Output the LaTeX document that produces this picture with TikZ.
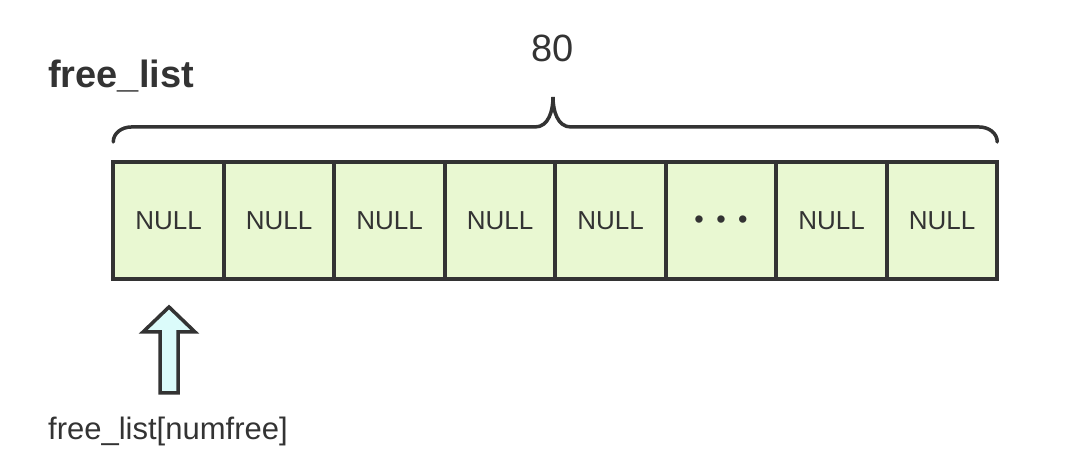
\documentclass[tikz,border=0pt]{standalone}
\usepackage{fontspec}
\setmainfont{Liberation Sans}
\usepackage{xcolor}
\usetikzlibrary{positioning, calc}
\definecolor{cellgreen}{HTML}{E9F8D2}
\definecolor{ptrcyan}{HTML}{DBFBFA}
\definecolor{inkgray}{HTML}{333333}

\begin{document}
\begin{tikzpicture}[
    x=1pt, y=1pt,
    node distance=0pt,
    cell/.style={rectangle, draw=inkgray, fill=cellgreen, line width=4pt, minimum width=110.5pt, minimum height=117pt, inner sep=0pt, outer sep=0pt, text=inkgray, font=\fontsize{26}{26}\selectfont},
    caption/.style={text=inkgray, inner sep=0pt, font=\fontsize{38}{38}\selectfont},
    bracket/.style={draw=inkgray, line width=3.5pt, line cap=round},
    pointer/.style={draw=inkgray, fill=ptrcyan, line width=3.5pt, line join=miter}
]
    \useasboundingbox (0,0) rectangle (1082,476);

    % the 80 slots
    \node[cell] (c1) at (168.5,255.5) {NULL};
    \node[cell, right=of c1] (c2) {NULL};
    \node[cell, right=of c2] (c3) {NULL};
    \node[cell, right=of c3] (c4) {NULL};
    \node[cell, right=of c4] (c5) {NULL};
    \node[cell, right=of c5] (c6) {\fontsize{27}{27}\selectfont\raisebox{-8pt}[0pt][0pt]{\textbullet\hspace{12.5pt}\textbullet\hspace{12.5pt}\textbullet}};
    \node[cell, right=of c6] (c7) {NULL};
    \node[cell, right=of c7] (c8) {NULL};

    \node[caption, font=\bfseries\fontsize{38}{38}\selectfont, anchor=base west] (name) at (48,388) {free\_list};

    % brace over the slots
    \coordinate (lend) at ($(c1.north west)+(0,20)$);
    \coordinate (rend) at ($(c8.north east)+(0,20)$);
    \coordinate (peak) at (553,379);
    \draw[bracket] (lend) to[out=90,in=180] ++(18,15) -- ($(peak)+(-18,-30)$)
        to[out=0,in=-90] (peak) to[out=-90,in=180] ($(peak)+(18,-30)$)
        -- ($(rend)+(-18,15)$) to[out=0,in=90] (rend);
    \node[caption, anchor=base] (count) at (553,414) {80};

    % numfree pointer
    \coordinate (tip) at ($(c1.south)+(0.5,-28)$);
    \draw[pointer] (tip) -- ++(26,-25) -- ++(-17,0) -- ++(0,-61) -- ++(-18,0)
        -- ++(0,61) -- ++(-17,0) -- cycle;
    \node[caption, font=\fontsize{31}{31}\selectfont, anchor=base west] (idx) at (48,36) {free\_list[numfree]};
\end{tikzpicture}
\end{document}
